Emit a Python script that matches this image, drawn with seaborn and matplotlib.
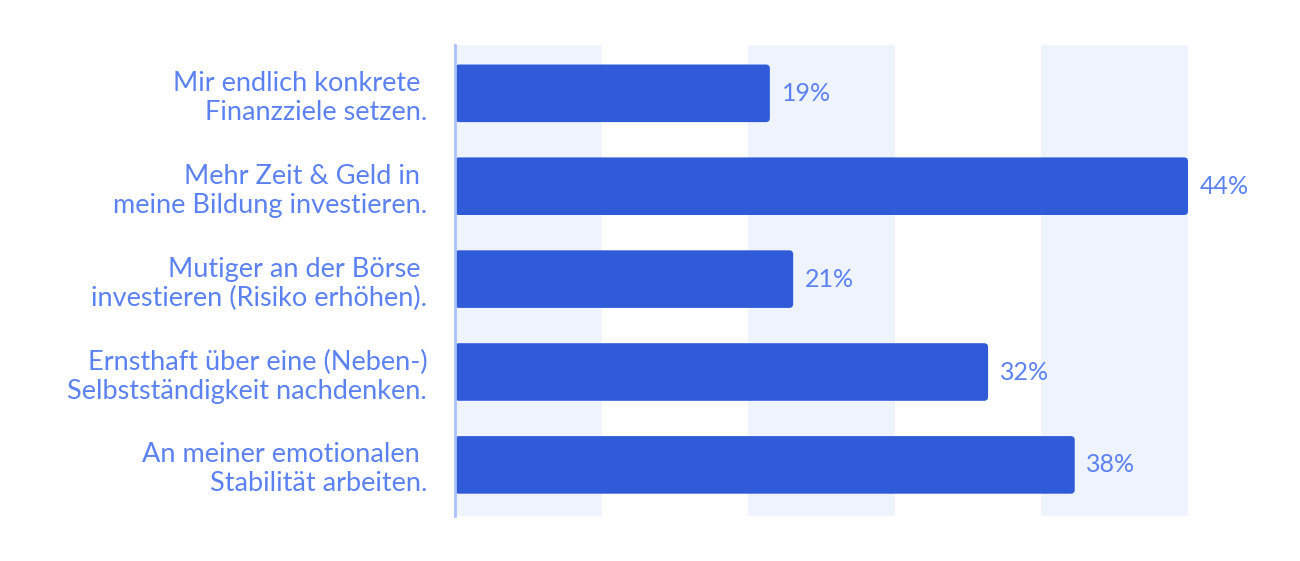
import matplotlib
matplotlib.use("Agg")
import matplotlib.pyplot as plt
import seaborn as sns
import pandas as pd
from matplotlib.patches import FancyBboxPatch

categories = [
    "Mir endlich konkrete \nFinanzziele setzen.",
    "Mehr Zeit & Geld in \nmeine Bildung investieren.",
    "Mutiger an der Börse \ninvestieren (Risiko erhöhen).",
    "Ernsthaft über eine (Neben-)\nSelbstständigkeit nachdenken.",
    "An meiner emotionalen \nStabilität arbeiten.",
]
values = [18.9, 44.0, 20.3, 32.0, 37.2]
value_labels = ["19%", "44%", "21%", "32%", "38%"]

BAR = "#2f5bd9"
TXT = "#5b82f0"
BAND = "#eef3fe"
SPINE = "#a9c2fb"

sns.set_theme(style="white")
plt.rcParams["font.family"] = ["Lato", "DejaVu Sans"]

df = pd.DataFrame({"cat": categories, "val": values})

fig = plt.figure(figsize=(13, 5.61), dpi=100)
ax = fig.add_axes([455 / 1300, 1 - 516 / 561, (1188 - 455) / 1300, (516 - 45) / 561])

sns.barplot(data=df, y="cat", x="val", orient="h", color=BAR, width=0.62,
            saturation=1, ax=ax, zorder=3)

xmax = max(values)
ax.set_xlim(0, xmax)
ax.set_ylim(4.55, -0.52)

# rounded bar corners
bars = [(p.get_x(), p.get_y(), p.get_width(), p.get_height()) for p in ax.patches]
for p in list(ax.patches):
    p.remove()
xpp = xmax / 733.0
ypp = 5.07 / 471.0
for (x0, y0, w, h) in bars:
    if w <= 0 or h <= 0:
        continue
    r = 4 * xpp
    fb = FancyBboxPatch((x0, y0), w, h,
                        boxstyle=f"round,pad=0,rounding_size={r}",
                        mutation_aspect=ypp / xpp,
                        fc=BAR, ec="none", zorder=3)
    ax.add_patch(fb)

step = xmax / 5
for i in (0, 2, 4):
    ax.axvspan(i * step, (i + 1) * step, color=BAND, zorder=0, lw=0)

for i, (v, lab) in enumerate(zip(values, value_labels)):
    ax.text(v + 0.7, i, lab, va="center", ha="left", color=TXT, fontsize=18)

ax.set_xlabel("")
ax.set_ylabel("")
ax.set_xticks([])
ax.tick_params(axis="y", length=0, pad=20, labelsize=19.5, labelcolor=TXT)
for lab in ax.get_yticklabels():
    lab.set_linespacing(1.2)
for s in ["top", "right", "bottom"]:
    ax.spines[s].set_visible(False)
ax.spines["left"].set_color(SPINE)
ax.spines["left"].set_linewidth(2)
ax.spines["left"].set_zorder(5)

fig.savefig("out.png", dpi=100, facecolor="white")
